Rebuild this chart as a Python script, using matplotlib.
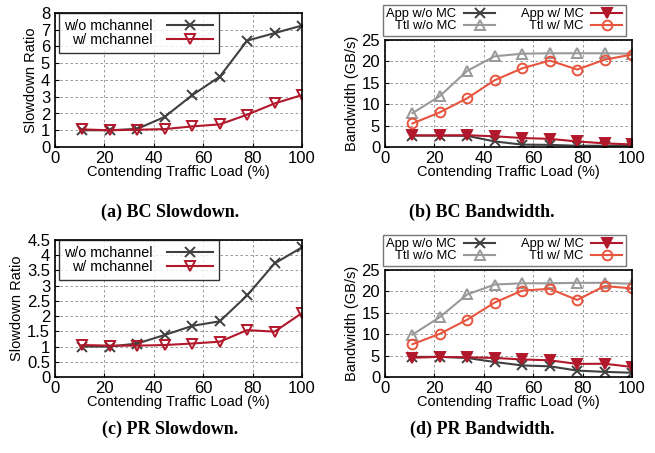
import matplotlib
matplotlib.use("Agg")
import matplotlib.pyplot as plt
import numpy as np

plt.rcParams['font.family'] = ['Liberation Sans', 'DejaVu Sans']
plt.rcParams['font.size'] = 10

load = [11.1, 22.2, 33.3, 44.4, 55.6, 66.7, 77.8, 88.9, 100]

# (a) BC slowdown
bc_slow_wo = [1.0, 1.0, 1.08, 1.8, 3.1, 4.2, 6.35, 6.8, 7.25]
bc_slow_w = [1.05, 1.0, 1.03, 1.07, 1.23, 1.35, 1.93, 2.6, 3.1]
# (b) BC bandwidth
bc_app_wo = [2.67, 2.67, 2.6, 1.3, 0.55, 0.5, 0.3, 0.3, 0.3]
bc_ttl_wo = [7.9, 11.9, 17.8, 21.2, 21.8, 21.9, 21.9, 21.9, 21.8]
bc_app_w = [2.7, 2.7, 2.75, 2.5, 2.1, 1.9, 1.3, 0.85, 0.6]
bc_ttl_w = [5.5, 8.1, 11.4, 15.6, 18.4, 20.2, 18.1, 20.4, 21.6]
# (c) PR slowdown
pr_slow_wo = [1.0, 1.0, 1.1, 1.38, 1.68, 1.83, 2.68, 3.73, 4.26]
pr_slow_w = [1.05, 1.03, 1.03, 1.05, 1.1, 1.16, 1.54, 1.49, 2.1]
# (d) PR bandwidth
pr_app_wo = [4.7, 4.7, 4.45, 3.5, 2.7, 2.5, 1.5, 1.2, 1.0]
pr_ttl_wo = [9.9, 14.0, 19.3, 21.6, 21.9, 21.9, 22.0, 22.0, 21.8]
pr_app_w = [4.5, 4.7, 4.6, 4.45, 4.1, 3.9, 3.05, 3.1, 2.35]
pr_ttl_w = [7.65, 10.1, 13.4, 17.4, 20.2, 20.6, 18.0, 21.25, 20.7]

captions = ["(a) BC Slowdown.", "(b) BC Bandwidth.", "(c) PR Slowdown.", "(d) PR Bandwidth."]

C_WO = '#404040'
C_W = '#b2182b'
C_TWO = '#999999'
C_TW = '#e8553f'

W, H = 655, 453
fig = plt.figure(figsize=(W / 100, H / 100), dpi=100)


def add_ax(l, t, r, b):
    return fig.add_axes([l / W, 1 - b / H, (r - l) / W, (b - t) / H])


def style(ax, ymax, ystep, ylabel):
    ax.set_xlim(0, 100)
    ax.set_ylim(0, ymax)
    ax.set_xticks(np.arange(0, 101, 20))
    yt = np.arange(0, ymax + 1e-9, ystep)
    ax.set_yticks(yt)
    ax.set_yticklabels([('%g' % v) for v in yt])
    ax.grid(True, color='#888888', linestyle=(0, (3, 3)), linewidth=0.6)
    ax.tick_params(direction='in', length=3, width=0.8, labelsize=12)
    ax.tick_params(axis='x', pad=3)
    ax.tick_params(axis='y', pad=3.5)
    for s in ax.spines.values():
        s.set_linewidth(1.2)
        s.set_color('black')
    ax.set_xlabel('Contending Traffic Load (%)', fontsize=10.5, labelpad=-1)
    ax.set_ylabel(ylabel, fontsize=10.5, labelpad=2)


def slow_panel(ax, wo, w, ymax, ystep):
    ax.plot(load, wo, color=C_WO, marker='x', markersize=7, mew=1.4, lw=1.5,
            label='w/o mchannel')
    ax.plot(load, w, color=C_W, marker='v', markersize=6.5, mfc='none', mew=1.4, lw=1.5,
            label='w/ mchannel')
    style(ax, ymax, ystep, 'Slowdown Ratio')
    leg = ax.legend(loc='upper left', bbox_to_anchor=(0.015, 1.0), markerfirst=False,
                    frameon=True, fancybox=False, edgecolor='black', fontsize=10.3,
                    handlelength=3.2, borderpad=0.4, labelspacing=0.05, handletextpad=1.0,
                    borderaxespad=0)
    leg.get_frame().set_linewidth(1.0)


def bw_panel(ax, app_wo, ttl_wo, app_w, ttl_w):
    h1, = ax.plot(load, app_wo, color=C_WO, marker='x', markersize=7, mew=1.4, lw=1.5,
                  label='App w/o MC')
    h2, = ax.plot(load, ttl_wo, color=C_TWO, marker='^', markersize=7, mfc='none', mew=1.4,
                  lw=1.5, label='Ttl w/o MC')
    h3, = ax.plot(load, app_w, color=C_W, marker='v', markersize=6.5, mew=1.4, lw=1.5,
                  label='App w/ MC')
    h4, = ax.plot(load, ttl_w, color=C_TW, marker='o', markersize=7, mfc='none', mew=1.4,
                  lw=1.5, label='Ttl w/ MC')
    style(ax, 25, 5, 'Bandwidth (GB/s)')
    leg = ax.legend(handles=[h1, h2, h3, h4], ncol=2, loc='lower left',
                    bbox_to_anchor=(-0.008, 1.04), markerfirst=False, frameon=True,
                    fancybox=False, edgecolor='#555555', fontsize=9.3,
                    handlelength=2.4, borderpad=0.25, labelspacing=0.0, handletextpad=0.6,
                    columnspacing=2.0, borderaxespad=0)
    leg.get_frame().set_linewidth(1.0)


ax_a = add_ax(55, 13, 302, 147)
slow_panel(ax_a, bc_slow_wo, bc_slow_w, 8, 1)
ax_b = add_ax(385, 40, 632, 147)
bw_panel(ax_b, bc_app_wo, bc_ttl_wo, bc_app_w, bc_ttl_w)
ax_c = add_ax(55, 240, 302, 377)
slow_panel(ax_c, pr_slow_wo, pr_slow_w, 4.5, 0.5)
ax_d = add_ax(385, 270, 632, 377)
bw_panel(ax_d, pr_app_wo, pr_ttl_wo, pr_app_w, pr_ttl_w)

cap_font = dict(family=['Liberation Serif', 'DejaVu Serif'], fontweight='bold', fontsize=13,
                ha='center', va='center')
fig.text(170 / W, 1 - 212 / H, captions[0], **cap_font)
fig.text(482 / W, 1 - 212 / H, captions[1], **cap_font)
fig.text(170 / W, 1 - 429 / H, captions[2], **cap_font)
fig.text(482 / W, 1 - 429 / H, captions[3], **cap_font)

fig.savefig('out.png', dpi=100)
